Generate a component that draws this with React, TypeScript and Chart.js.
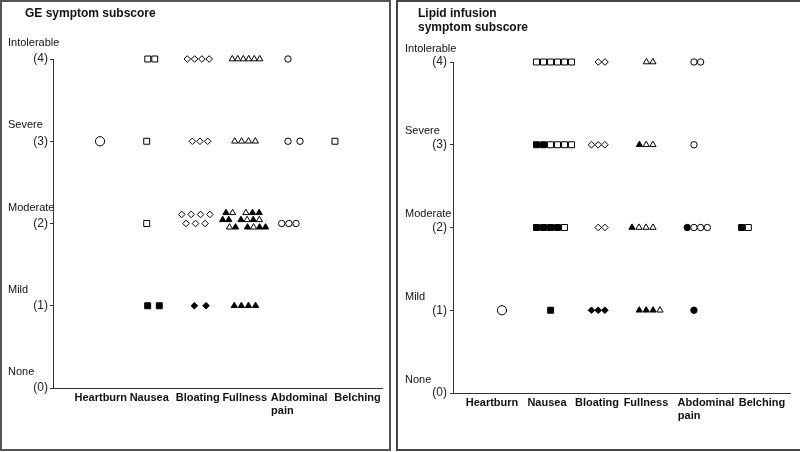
import React, { useEffect, useRef } from "react";
import { Chart, registerables } from "chart.js";

Chart.register(...registerables);

const FONT = '"Liberation Sans", Arial, Helvetica, sans-serif';

// ---------- data ----------
const categories = ["Heartburn", "Nausea", "Bloating", "Fullness", "Abdominal pain", "Belching"];
const severityWords = ["None", "Mild", "Moderate", "Severe", "Intolerable"];
const scoreTickLabels = ["(0)", "(1)", "(2)", "(3)", "(4)"];

const geTitle = ["GE symptom subscore"];
const lipidTitle = ["Lipid infusion", "symptom subscore"];

// where each category label sits on the panel's x scale
const geLabelPos = [1, 1.943, 2.888, 3.803, 4.865, 6];
const lipidLabelPos = [1, 2.019, 2.944, 3.852, 4.963, 6];

// one row = [category index, score, marks (space = empty slot), offset of first mark from label, step between marks]
// marks: □ ■ square, ◇ ◆ diamond, △ ▲ triangle, ○ ● circle, ◯ large circle (open / filled)
type Row = [number, number, string, number, number];

const geRows: Row[] = [
  [0, 3, "◯", -0.015, 0],
  [1, 4, "□□", -0.028, 0.136],
  [1, 3, "□", -0.049, 0],
  [1, 2, "□", -0.049, 0],
  [1, 1, "■■", -0.03, 0.226],
  [2, 4, "◇◇◇◇", -0.203, 0.142],
  [2, 3, "◇◇◇", -0.106, 0.15],
  [2, 2.11, "◇◇◇◇", -0.312, 0.183],
  [2, 2, "◇◇◇", -0.228, 0.185],
  [2, 1, "◆◆", -0.066, 0.228],
  [3, 4, "△△△△△△", -0.242, 0.107],
  [3, 3, "△△△△", -0.195, 0.134],
  [3, 2.13, "▲△ △▲▲", -0.364, 0.129],
  [3, 2.045, "▲▲ ▲△▲△", -0.429, 0.119],
  [3, 1.955, "△▲ ▲△▲▲", -0.296, 0.117],
  [3, 1, "▲▲▲▲", -0.203, 0.138],
  [4, 4, "○", -0.219, 0],
  [4, 3, "○○", -0.219, 0.234],
  [4, 2, "○○○", -0.342, 0.14],
  [5, 3, "□", -0.439, 0],
];

const lipidRows: Row[] = [
  [0, 1, "◯", 0.185, 0],
  [1, 4, "□□□□□□", -0.195, 0.13],
  [1, 3, "■■□□□□", -0.195, 0.13],
  [1, 2, "■■■■□", -0.195, 0.13],
  [1, 1, "■", 0.068, 0],
  [2, 4, "◇◇", 0.025, 0.124],
  [2, 3, "◇◇◇", -0.101, 0.124],
  [2, 2, "◇◇", 0.025, 0.124],
  [2, 1, "◆◆◆", -0.101, 0.124],
  [3, 4, "△△", 0.009, 0.12],
  [3, 3, "▲△△", -0.121, 0.125],
  [3, 2, "▲△△△", -0.259, 0.13],
  [3, 1, "▲▲▲△", -0.124, 0.128],
  [4, 4, "○○", -0.222, 0.124],
  [4, 3, "○", -0.222, 0],
  [4, 2, "●○○○", -0.346, 0.124],
  [4, 1, "●", -0.222, 0],
  [5, 2, "■□", -0.376, 0.124],
];

// ---------- styles ----------
const markStyle: Record<string, [string, number, boolean]> = {
  "□": ["rect", 4.2, false],
  "■": ["rect", 4.2, true],
  "◇": ["rectRot", 3.3, false],
  "◆": ["rectRot", 3.3, true],
  "△": ["triangle", 3.6, false],
  "▲": ["triangle", 3.6, true],
  "○": ["circle", 3.2, false],
  "●": ["circle", 3.2, true],
  "◯": ["circle", 4.6, false],
};

function styleOf(c: any): [string, number, boolean] {
  const m = c && c.raw && c.raw.m;
  return markStyle[m] || markStyle["○"];
}

function buildPoints(rows: Row[], labelPos: number[]) {
  const pts: { x: number; y: number; m: string }[] = [];
  rows.forEach(([cat, score, marks, off, step]) => {
    Array.from(marks).forEach((m, i) => {
      if (m === " ") return;
      pts.push({ x: labelPos[cat] + off + i * step, y: score, m });
    });
  });
  return pts;
}

function splitLabel(label: string): string | string[] {
  const words = label.split(" ");
  if (words.length < 2) return label;
  return [words[0], words[1].padEnd(words[0].length + 6)];
}

type PanelCfg = {
  title: string[];
  rows: Row[];
  labelPos: number[];
  xMin: number;
  xMax: number;
  width: number;
  height: number;
  pad: { top: number; right: number; bottom: number; left: number };
  yAxisWidth: number;
  xAxisHeight: number;
  tickPad: number;
  titleX: number;
  titleY: number;
  titleGap: number;
  wordX: number;
  wordDy: number;
};

const geCfg: PanelCfg = {
  title: geTitle,
  rows: geRows,
  labelPos: geLabelPos,
  xMin: 0.069,
  xMax: 6.477,
  width: 387,
  height: 447,
  pad: { top: 57, right: 7, bottom: 1, left: 0 },
  yAxisWidth: 51,
  xAxisHeight: 60,
  tickPad: 2,
  titleX: 23,
  titleY: 12,
  titleGap: 15,
  wordX: 6,
  wordDy: -16,
};

const lipidCfg: PanelCfg = {
  title: lipidTitle,
  rows: lipidRows,
  labelPos: lipidLabelPos,
  xMin: 0.278,
  xMax: 6.52,
  width: 416,
  height: 447,
  pad: { top: 60, right: 24, bottom: 1, left: 0 },
  yAxisWidth: 55,
  xAxisHeight: 55,
  tickPad: 3,
  titleX: 20,
  titleY: 11.5,
  titleGap: 14.5,
  wordX: 7,
  wordDy: -13.5,
};

function ScorePanel({ cfg }: { cfg: PanelCfg }) {
  const ref = useRef<HTMLCanvasElement>(null);

  useEffect(() => {
    const canvas = ref.current;
    if (!canvas) return;
    const p = cfg;
    const points = buildPoints(p.rows, p.labelPos);
    const xLabels = categories.map(splitLabel);

    const textPlugin = {
      id: "panelText",
      afterDraw(chart: any) {
        const ctx = chart.ctx;
        ctx.save();
        ctx.fillStyle = "#111";
        ctx.textBaseline = "middle";
        ctx.textAlign = "left";
        ctx.font = `bold 12px ${FONT}`;
        p.title.forEach((t, i) => ctx.fillText(t, p.titleX, p.titleY + i * p.titleGap));
        ctx.font = `11px ${FONT}`;
        const ys = chart.scales.y;
        severityWords.forEach((w, v) => ctx.fillText(w, p.wordX, ys.getPixelForValue(v) + p.wordDy));
        ctx.restore();
      },
    };

    const chart = new Chart(canvas, {
      type: "scatter",
      data: {
        datasets: [
          {
            data: points as any,
            showLine: false,
            clip: false as any,
            pointStyle: ((c: any) => styleOf(c)[0]) as any,
            pointRadius: ((c: any) => styleOf(c)[1]) as any,
            pointHoverRadius: ((c: any) => styleOf(c)[1]) as any,
            pointBackgroundColor: ((c: any) => (styleOf(c)[2] ? "#000" : "#fff")) as any,
            pointBorderColor: "#000",
            pointBorderWidth: 1,
          },
        ],
      },
      options: {
        responsive: false,
        animation: false,
        devicePixelRatio: 1,
        events: [],
        layout: { padding: p.pad },
        plugins: { legend: { display: false }, tooltip: { enabled: false } },
        scales: {
          x: {
            type: "linear",
            min: p.xMin,
            max: p.xMax,
            afterBuildTicks: (s: any) => {
              s.ticks = p.labelPos.map((v) => ({ value: v }));
            },
            afterFit: (s: any) => {
              s.height = p.xAxisHeight;
            },
            grid: { display: false, drawTicks: false },
            border: { display: true, color: "#333", width: 1 },
            ticks: {
              autoSkip: false,
              maxRotation: 0,
              minRotation: 0,
              padding: 3,
              color: "#111",
              font: { family: FONT, size: 11, weight: "bold" },
              callback: (_v: any, i: number) => xLabels[i] as any,
            },
          },
          y: {
            type: "linear",
            min: 0,
            max: 4,
            afterFit: (s: any) => {
              s.width = p.yAxisWidth;
            },
            grid: { display: true, drawOnChartArea: false, drawTicks: true, tickLength: 3, color: "#333" },
            border: { display: true, color: "#333", width: 1 },
            ticks: {
              stepSize: 1,
              padding: p.tickPad,
              color: "#222",
              font: { family: FONT, size: 12 },
              callback: (v: any) => scoreTickLabels[v as number] ?? "",
            },
          },
        },
      } as any,
      plugins: [textPlugin],
    });
    return () => chart.destroy();
  }, [cfg]);

  return (
    <canvas
      ref={ref}
      width={cfg.width}
      height={cfg.height}
      style={{ display: "block", width: cfg.width, height: cfg.height }}
    />
  );
}

export default function App() {
  return (
    <div
      style={{
        position: "fixed",
        left: 0,
        top: 0,
        width: 800,
        height: 452,
        overflow: "hidden",
        background: "#fff",
      }}
    >
      <div
        style={{
          position: "absolute",
          left: 0,
          top: 0,
          width: 391,
          height: 451,
          boxSizing: "border-box",
          border: "2px solid #555",
        }}
      >
        <ScorePanel cfg={geCfg} />
      </div>
      <div
        style={{
          position: "absolute",
          left: 396,
          top: 0,
          width: 420,
          height: 451,
          boxSizing: "border-box",
          border: "2px solid #444",
        }}
      >
        <ScorePanel cfg={lipidCfg} />
      </div>
    </div>
  );
}
